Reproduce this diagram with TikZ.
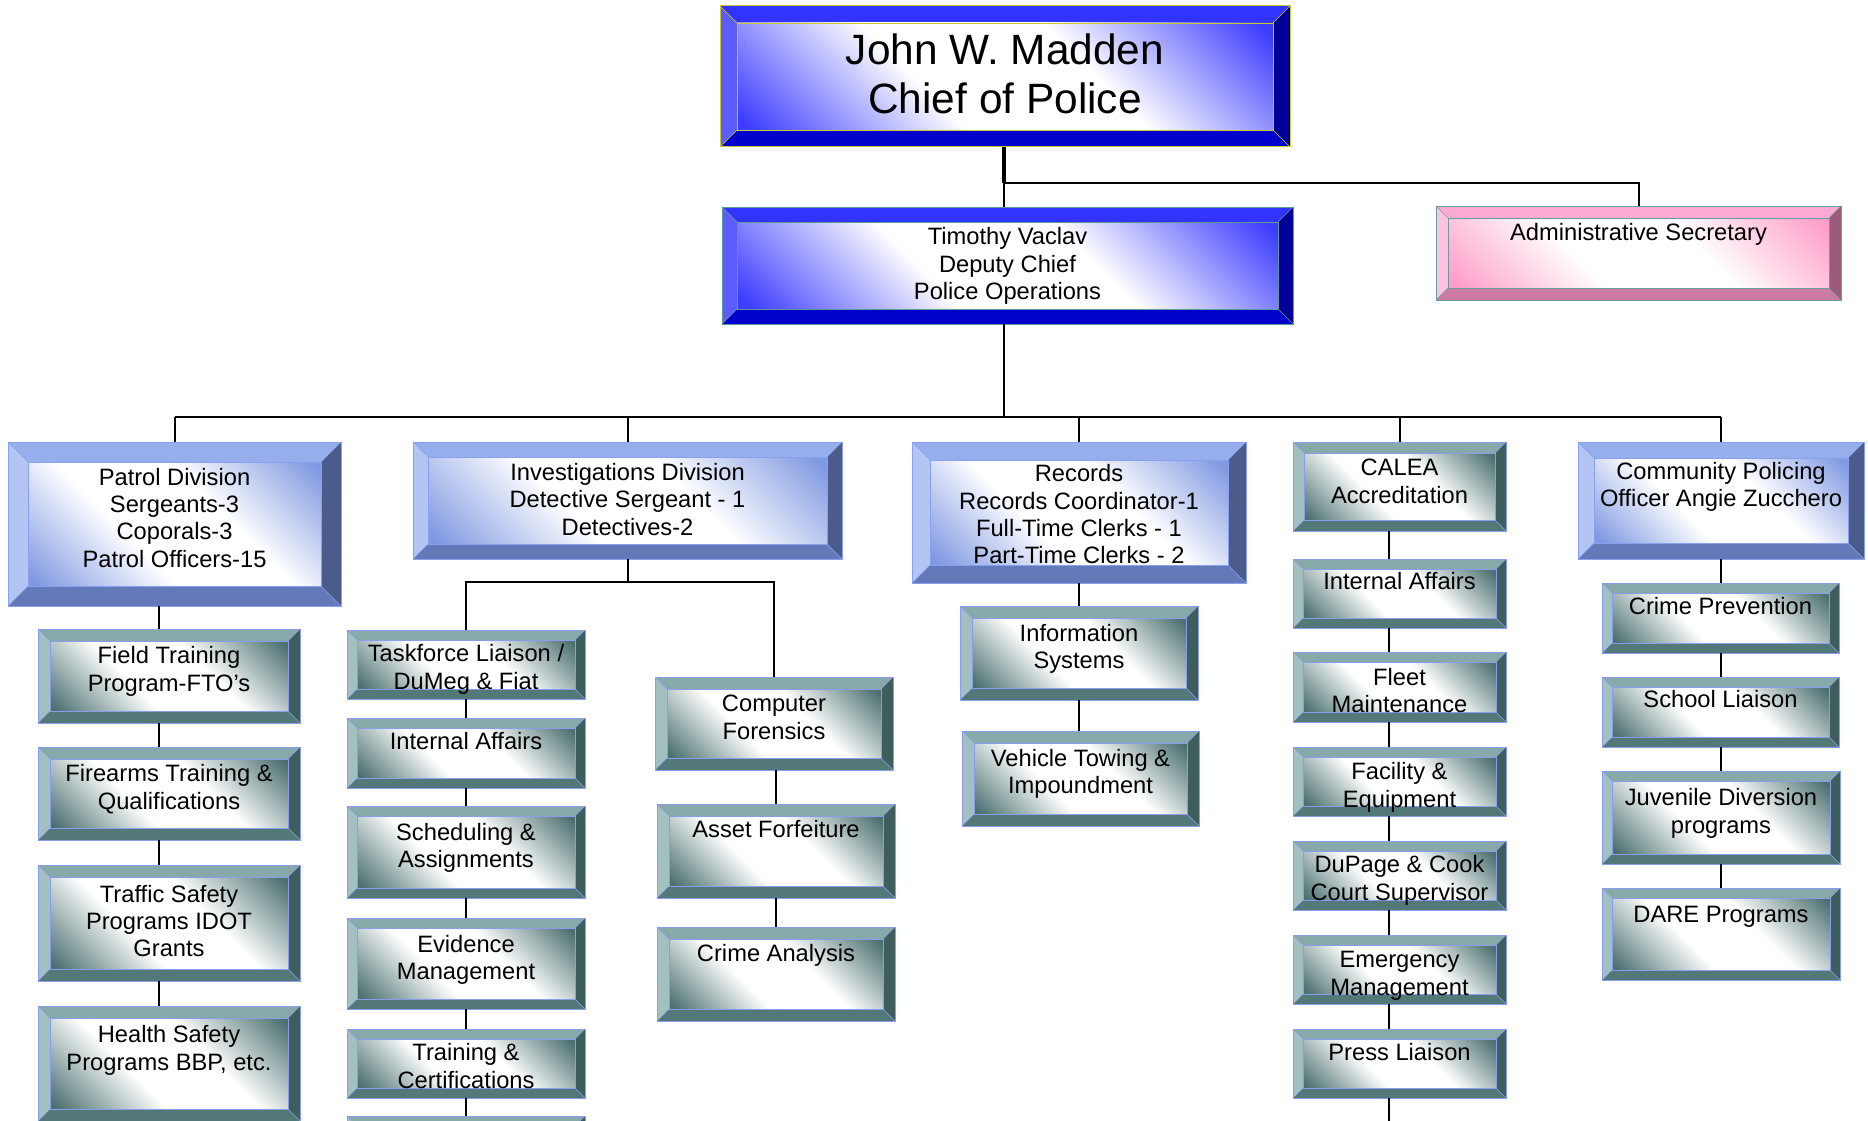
\documentclass[tikz,border=0pt]{standalone}
\usepackage{fontspec}
\setmainfont{Liberation Sans}
% colour schemes: T top, L left, R right, B bottom, C corner of the shading, E edge lines
\definecolor{blT}{HTML}{3333FF}\definecolor{blL}{HTML}{5C5CFF}\definecolor{blR}{HTML}{000099}
\definecolor{blB}{HTML}{0000CC}\definecolor{blC}{HTML}{3D3DFF}\definecolor{blE}{HTML}{5A9A9A}
\definecolor{byT}{HTML}{3333FF}\definecolor{byL}{HTML}{5C5CFF}\definecolor{byR}{HTML}{000099}
\definecolor{byB}{HTML}{0000CC}\definecolor{byC}{HTML}{3D3DFF}\definecolor{byE}{HTML}{C8C830}
\definecolor{pwT}{HTML}{96AEEB}\definecolor{pwL}{HTML}{B2C5F3}\definecolor{pwR}{HTML}{4A5B8C}
\definecolor{pwB}{HTML}{6479B9}\definecolor{pwC}{HTML}{7F98E2}\definecolor{pwE}{HTML}{88A0EE}
\definecolor{tlT}{HTML}{87A9A9}\definecolor{tlL}{HTML}{A3C0C0}\definecolor{tlR}{HTML}{3E5D5D}
\definecolor{tlB}{HTML}{527878}\definecolor{tlC}{HTML}{4C7070}\definecolor{tlE}{HTML}{8A9CEE}
\definecolor{pkT}{HTML}{FFAAD4}\definecolor{pkL}{HTML}{FFC2DF}\definecolor{pkR}{HTML}{9B5C7C}
\definecolor{pkB}{HTML}{CC7AA2}\definecolor{pkC}{HTML}{FF9EC8}\definecolor{pkE}{HTML}{6A9E9E}
\pgfdeclarehorizontalshading{shbl}{100bp}{color(0bp)=(blC); color(16bp)=(blC); color(40bp)=(white); color(60bp)=(white); color(84bp)=(blC); color(100bp)=(blC)}
\pgfdeclarehorizontalshading{shby}{100bp}{color(0bp)=(byC); color(16bp)=(byC); color(40bp)=(white); color(60bp)=(white); color(84bp)=(byC); color(100bp)=(byC)}
\pgfdeclarehorizontalshading{shpw}{100bp}{color(0bp)=(pwC); color(16bp)=(pwC); color(40bp)=(white); color(60bp)=(white); color(84bp)=(pwC); color(100bp)=(pwC)}
\pgfdeclarehorizontalshading{shtl}{100bp}{color(0bp)=(tlC); color(16bp)=(tlC); color(40bp)=(white); color(60bp)=(white); color(84bp)=(tlC); color(100bp)=(tlC)}
\pgfdeclarehorizontalshading{shpk}{100bp}{color(0bp)=(pkC); color(16bp)=(pkC); color(40bp)=(white); color(60bp)=(white); color(84bp)=(pkC); color(100bp)=(pkC)}
\tikzset{
  txt/.style={font=\fontsize{23.7}{27.4}\selectfont, align=center, inner sep=0pt, anchor=north, text=black},
  bigtxt/.style={font=\fontsize{42.4}{49}\selectfont, align=center, inner sep=0pt, anchor=north, text=black},
  conn/.style={draw=black, line width=2pt},
  boxnode/.style={inner sep=0pt, draw=none},
}
% #1 name, #2 x1, #3 y1, #4 x2, #5 y2, #6 bevel, #7 scheme
\newcommand{\bevbox}[7]{%
  \fill[#7T] (#2,#3) -- (#4,#3) -- ({#4-#6},{#3+#6}) -- ({#2+#6},{#3+#6}) -- cycle;
  \fill[#7B] (#2,#5) -- (#4,#5) -- ({#4-#6},{#5-#6}) -- ({#2+#6},{#5-#6}) -- cycle;
  \fill[#7L] (#2,#3) -- ({#2+#6},{#3+#6}) -- ({#2+#6},{#5-#6}) -- (#2,#5) -- cycle;
  \fill[#7R] (#4,#3) -- ({#4-#6},{#3+#6}) -- ({#4-#6},{#5-#6}) -- (#4,#5) -- cycle;
  \shade[shading=sh#7, shading angle=45] ({#2+#6},{#3+#6}) rectangle ({#4-#6},{#5-#6});
  \draw[#7E, line width=1pt] (#2,#3) rectangle (#4,#5);
  \draw[#7E, line width=0.8pt] ({#2+#6},{#3+#6}) rectangle ({#4-#6},{#5-#6});
  \draw[#7E, line width=0.6pt] (#2,#3) -- ({#2+#6},{#3+#6}) (#4,#3) -- ({#4-#6},{#3+#6})
     (#2,#5) -- ({#2+#6},{#5-#6}) (#4,#5) -- ({#4-#6},{#5-#6});
  \node[boxnode, minimum width={(#4-#2)*1pt}, minimum height={(#5-#3)*1pt}] (#1) at ({(#2+#4)/2},{(#3+#5)/2}) {};
}
% #1 name, #2 box node, #3 centre of first line, #4 text
\newcommand{\boxtext}[4]{\node[txt] (#1) at (#2.center |- 0,{#3-10.7}) {\strut #4};}
\begin{document}
\begin{tikzpicture}[x=1pt,y=-1pt]
\useasboundingbox (0,0) rectangle (1868,1121);
\fill[white] (0,0) rectangle (1868,1121);
\clip (0,0) rectangle (1868,1121);

% ---- boxes ----
\bevbox{chief}{720}{6}{1290}{147}{17}{by}
\node[bigtxt] (chieft) at (chief.center |- 0,30) {\strut John W. Madden\\Chief of Police};
\bevbox{deputy}{722}{207}{1293}{324}{15}{bl}
\boxtext{deputyt}{deputy}{236}{Timothy Vaclav\\Deputy Chief\\Police Operations}
\bevbox{admin}{1436}{206}{1841}{300}{12}{pk}
\boxtext{admint}{admin}{232}{Administrative Secretary}

\bevbox{patrol}{8}{442}{341}{606}{20}{pw}
\boxtext{patrolt}{patrol}{476.5}{Patrol Division\\Sergeants-3\\Coporals-3\\Patrol Officers-15}
\bevbox{invest}{413}{442}{842}{559}{15}{pw}
\boxtext{investt}{invest}{471.7}{Investigations Division\\Detective Sergeant - 1\\Detectives-2}
\bevbox{records}{912}{442}{1246}{583}{18}{pw}
\boxtext{recordst}{records}{473}{Records\\Records Coordinator-1\\Full-Time Clerks - 1\\Part-Time Clerks - 2}
\bevbox{calea}{1293}{442}{1506}{531}{11}{tl}
\boxtext{caleat}{calea}{467}{CALEA\\Accreditation}
\bevbox{community}{1578}{442}{1864}{559}{16}{pw}
\boxtext{communityt}{community}{470.6}{Community Policing\\Officer Angie Zucchero}

% patrol column
\bevbox{fto}{38}{629}{300}{723}{12}{tl}
\boxtext{ftot}{fto}{655}{Field Training\\Program-FTO’s}
\bevbox{firearms}{38}{747}{300}{840}{12}{tl}
\boxtext{firearmst}{firearms}{773}{Firearms Training \&\\Qualifications}
\bevbox{traffic}{38}{865}{300}{981}{12}{tl}
\boxtext{traffict}{traffic}{893.5}{Traffic Safety\\Programs IDOT\\Grants}
\bevbox{health}{38}{1006}{300}{1121}{12}{tl}
\boxtext{healtht}{health}{1034}{Health Safety\\Programs BBP, etc.}

% investigations columns
\bevbox{taskforce}{347}{630}{585}{699}{10}{tl}
\boxtext{taskforcet}{taskforce}{653}{Taskforce Liaison /\\DuMeg \& Fiat}
\bevbox{iaone}{347}{718}{585}{788}{10}{tl}
\boxtext{iaonet}{iaone}{741}{Internal Affairs}
\bevbox{sched}{347}{806}{585}{898}{10}{tl}
\boxtext{schedt}{sched}{831.5}{Scheduling \&\\Assignments}
\bevbox{evidence}{347}{918}{585}{1009}{10}{tl}
\boxtext{evidencet}{evidence}{943.5}{Evidence\\Management}
\bevbox{training}{347}{1029}{585}{1098}{10}{tl}
\boxtext{trainingt}{training}{1052}{Training \&\\Certifications}
\bevbox{nextbox}{347}{1116}{585}{1190}{10}{tl}
\bevbox{compfor}{655}{677}{893}{770}{12}{tl}
\boxtext{compfort}{compfor}{703}{Computer\\Forensics}
\bevbox{asset}{657}{804}{895}{898}{12}{tl}
\boxtext{assett}{asset}{829}{Asset Forfeiture}
\bevbox{crimean}{657}{927}{895}{1021}{12}{tl}
\boxtext{crimeant}{crimean}{953}{Crime Analysis}

% records column
\bevbox{infosys}{960}{606}{1198}{700}{12}{tl}
\boxtext{infosyst}{infosys}{632.6}{Information\\Systems}
\bevbox{vehicle}{962}{731}{1199}{826}{12}{tl}
\boxtext{vehiclet}{vehicle}{757.7}{Vehicle Towing \&\\Impoundment}

% CALEA column
\bevbox{iatwo}{1293}{559}{1506}{628}{10}{tl}
\boxtext{iatwot}{iatwo}{581}{Internal Affairs}
\bevbox{fleet}{1293}{652}{1506}{722}{10}{tl}
\boxtext{fleett}{fleet}{676.7}{Fleet\\Maintenance}
\bevbox{facility}{1293}{747}{1506}{816}{10}{tl}
\boxtext{facilityt}{facility}{771}{Facility \&\\Equipment}
\bevbox{dupage}{1293}{841}{1506}{910}{10}{tl}
\boxtext{dupaget}{dupage}{864}{DuPage \& Cook\\Court Supervisor}
\bevbox{emergency}{1293}{935}{1506}{1004}{10}{tl}
\boxtext{emergencyt}{emergency}{959}{Emergency\\Management}
\bevbox{press}{1293}{1029}{1506}{1098}{10}{tl}
\boxtext{presst}{press}{1052}{Press Liaison}

% community column
\bevbox{crimeprev}{1602}{583}{1839}{653}{10}{tl}
\boxtext{crimeprevt}{crimeprev}{606}{Crime Prevention}
\bevbox{school}{1602}{677}{1839}{747}{10}{tl}
\boxtext{schoolt}{school}{699}{School Liaison}
\bevbox{juvenile}{1602}{771}{1840}{864}{10}{tl}
\boxtext{juvenilet}{juvenile}{797}{Juvenile Diversion\\programs}
\bevbox{dare}{1602}{888}{1840}{980}{10}{tl}
\boxtext{daret}{dare}{914}{DARE Programs}

% ---- connectors ----
\coordinate (tr) at (1004,183);
\coordinate (trb) at (1004,417);
\draw[conn, line width=3.5pt] (tr |- chief.south) -- (tr);
\draw[conn] (tr) -- (tr |- deputy.north);
\draw[conn] (tr) -| (admin.north);
\draw[conn, line width=2.5pt] (tr |- deputy.south) -- (trb);
\draw[conn] (patrol.north |- trb) -- (community.north |- trb);
\foreach \n in {patrol,invest,records,calea,community} \draw[conn] (\n.north |- trb) -- (\n.north);

\coordinate (pc) at (159,0);
\draw[conn] (pc |- patrol.south) -- (pc |- fto.north);
\draw[conn] (pc |- fto.south) -- (pc |- firearms.north);
\draw[conn] (pc |- firearms.south) -- (pc |- traffic.north);
\draw[conn] (pc |- traffic.south) -- (pc |- health.north);

\coordinate (ih) at (627,582);
\draw[conn] (invest.south) -- (invest.south |- ih);
\draw[conn] (taskforce.north) |- (ih) -| (compfor.north);
\draw[conn] (taskforce.south) -- (iaone.north);
\draw[conn] (iaone.south) -- (sched.north);
\draw[conn] (sched.south) -- (evidence.north);
\draw[conn] (evidence.south) -- (training.north);
\draw[conn] (training.south) -- (nextbox.north);
\coordinate (fc) at (776,0);
\draw[conn] (fc |- compfor.south) -- (fc |- asset.north);
\draw[conn] (fc |- asset.south) -- (fc |- crimean.north);

\coordinate (rc) at (1079,0);
\draw[conn] (rc |- records.south) -- (rc |- infosys.north);
\draw[conn] (rc |- infosys.south) -- (rc |- vehicle.north);

\coordinate (cc) at (1389,0);
\coordinate (ccend) at (1389,1121);
\draw[conn] (cc |- calea.south) -- (cc |- iatwo.north);
\draw[conn] (cc |- iatwo.south) -- (cc |- fleet.north);
\draw[conn] (cc |- fleet.south) -- (cc |- facility.north);
\draw[conn] (cc |- facility.south) -- (cc |- dupage.north);
\draw[conn] (cc |- dupage.south) -- (cc |- emergency.north);
\draw[conn] (cc |- emergency.south) -- (cc |- press.north);
\draw[conn] (cc |- press.south) -- (ccend);

\coordinate (mc) at (1721,0);
\draw[conn] (mc |- community.south) -- (mc |- crimeprev.north);
\draw[conn] (mc |- crimeprev.south) -- (mc |- school.north);
\draw[conn] (mc |- school.south) -- (mc |- juvenile.north);
\draw[conn] (mc |- juvenile.south) -- (mc |- dare.north);
\end{tikzpicture}
\end{document}
